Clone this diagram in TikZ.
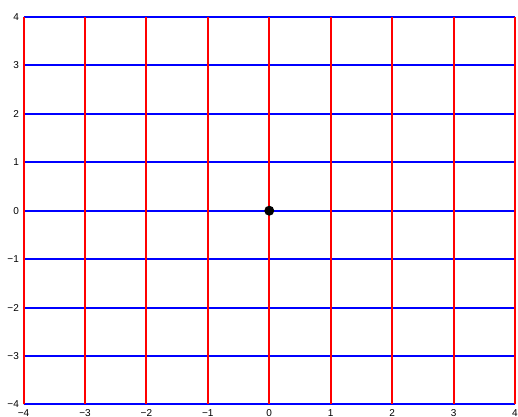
\documentclass[tikz,border=0pt]{standalone}
\usepackage{fontspec}
\setmainfont{Liberation Sans}
\definecolor{gridblue}{RGB}{0,0,255}
\definecolor{gridred}{RGB}{255,0,0}
\tikzset{
  hline/.style={draw=gridblue, line width=2pt},
  vline/.style={draw=gridred, line width=2pt},
  ticklab/.style={font=\fontsize{10}{12}\selectfont, inner sep=0pt},
  tickmark/.style={draw=black, line width=0.5pt}
}

\begin{document}
\begin{tikzpicture}[x=61.4pt, y=48.4pt]
      \useasboundingbox (-4.383,-4.248) rectangle (4.049,4.351);
      % axis ticks and labels
      \foreach \y/\t in {-4/{−4},-3/{−3},-2/{−2},-1/{−1},0/0,1/1,2/2,3/3,4/4} {
        \draw[tickmark] (-4,\y) -- ++(5pt,0);
        \node[ticklab, anchor=east] (ylab\y) at ([xshift=-4.5pt]-4,\y) {\t};
      }
      \foreach \x/\t in {-4/{−4},-3/{−3},-2/{−2},-1/{−1},0/0,1/1,2/2,3/3,4/4} {
        \draw[tickmark] (\x,-4) -- ++(0,5pt);
        \node[ticklab, anchor=north] (xlab\x) at ([yshift=-5pt]\x,-4) {\t};
      }
      % grid
      \foreach \y in {-4,...,4}
        \draw[hline] (-4,\y) -- (4,\y);
      \foreach \x in {-4,...,4}
        \draw[vline] (\x,-4) -- (\x,4);
      \node[circle, fill=black, inner sep=0pt, minimum size=10pt] (origin) at (0,0) {};
    \end{tikzpicture}
\end{document}
